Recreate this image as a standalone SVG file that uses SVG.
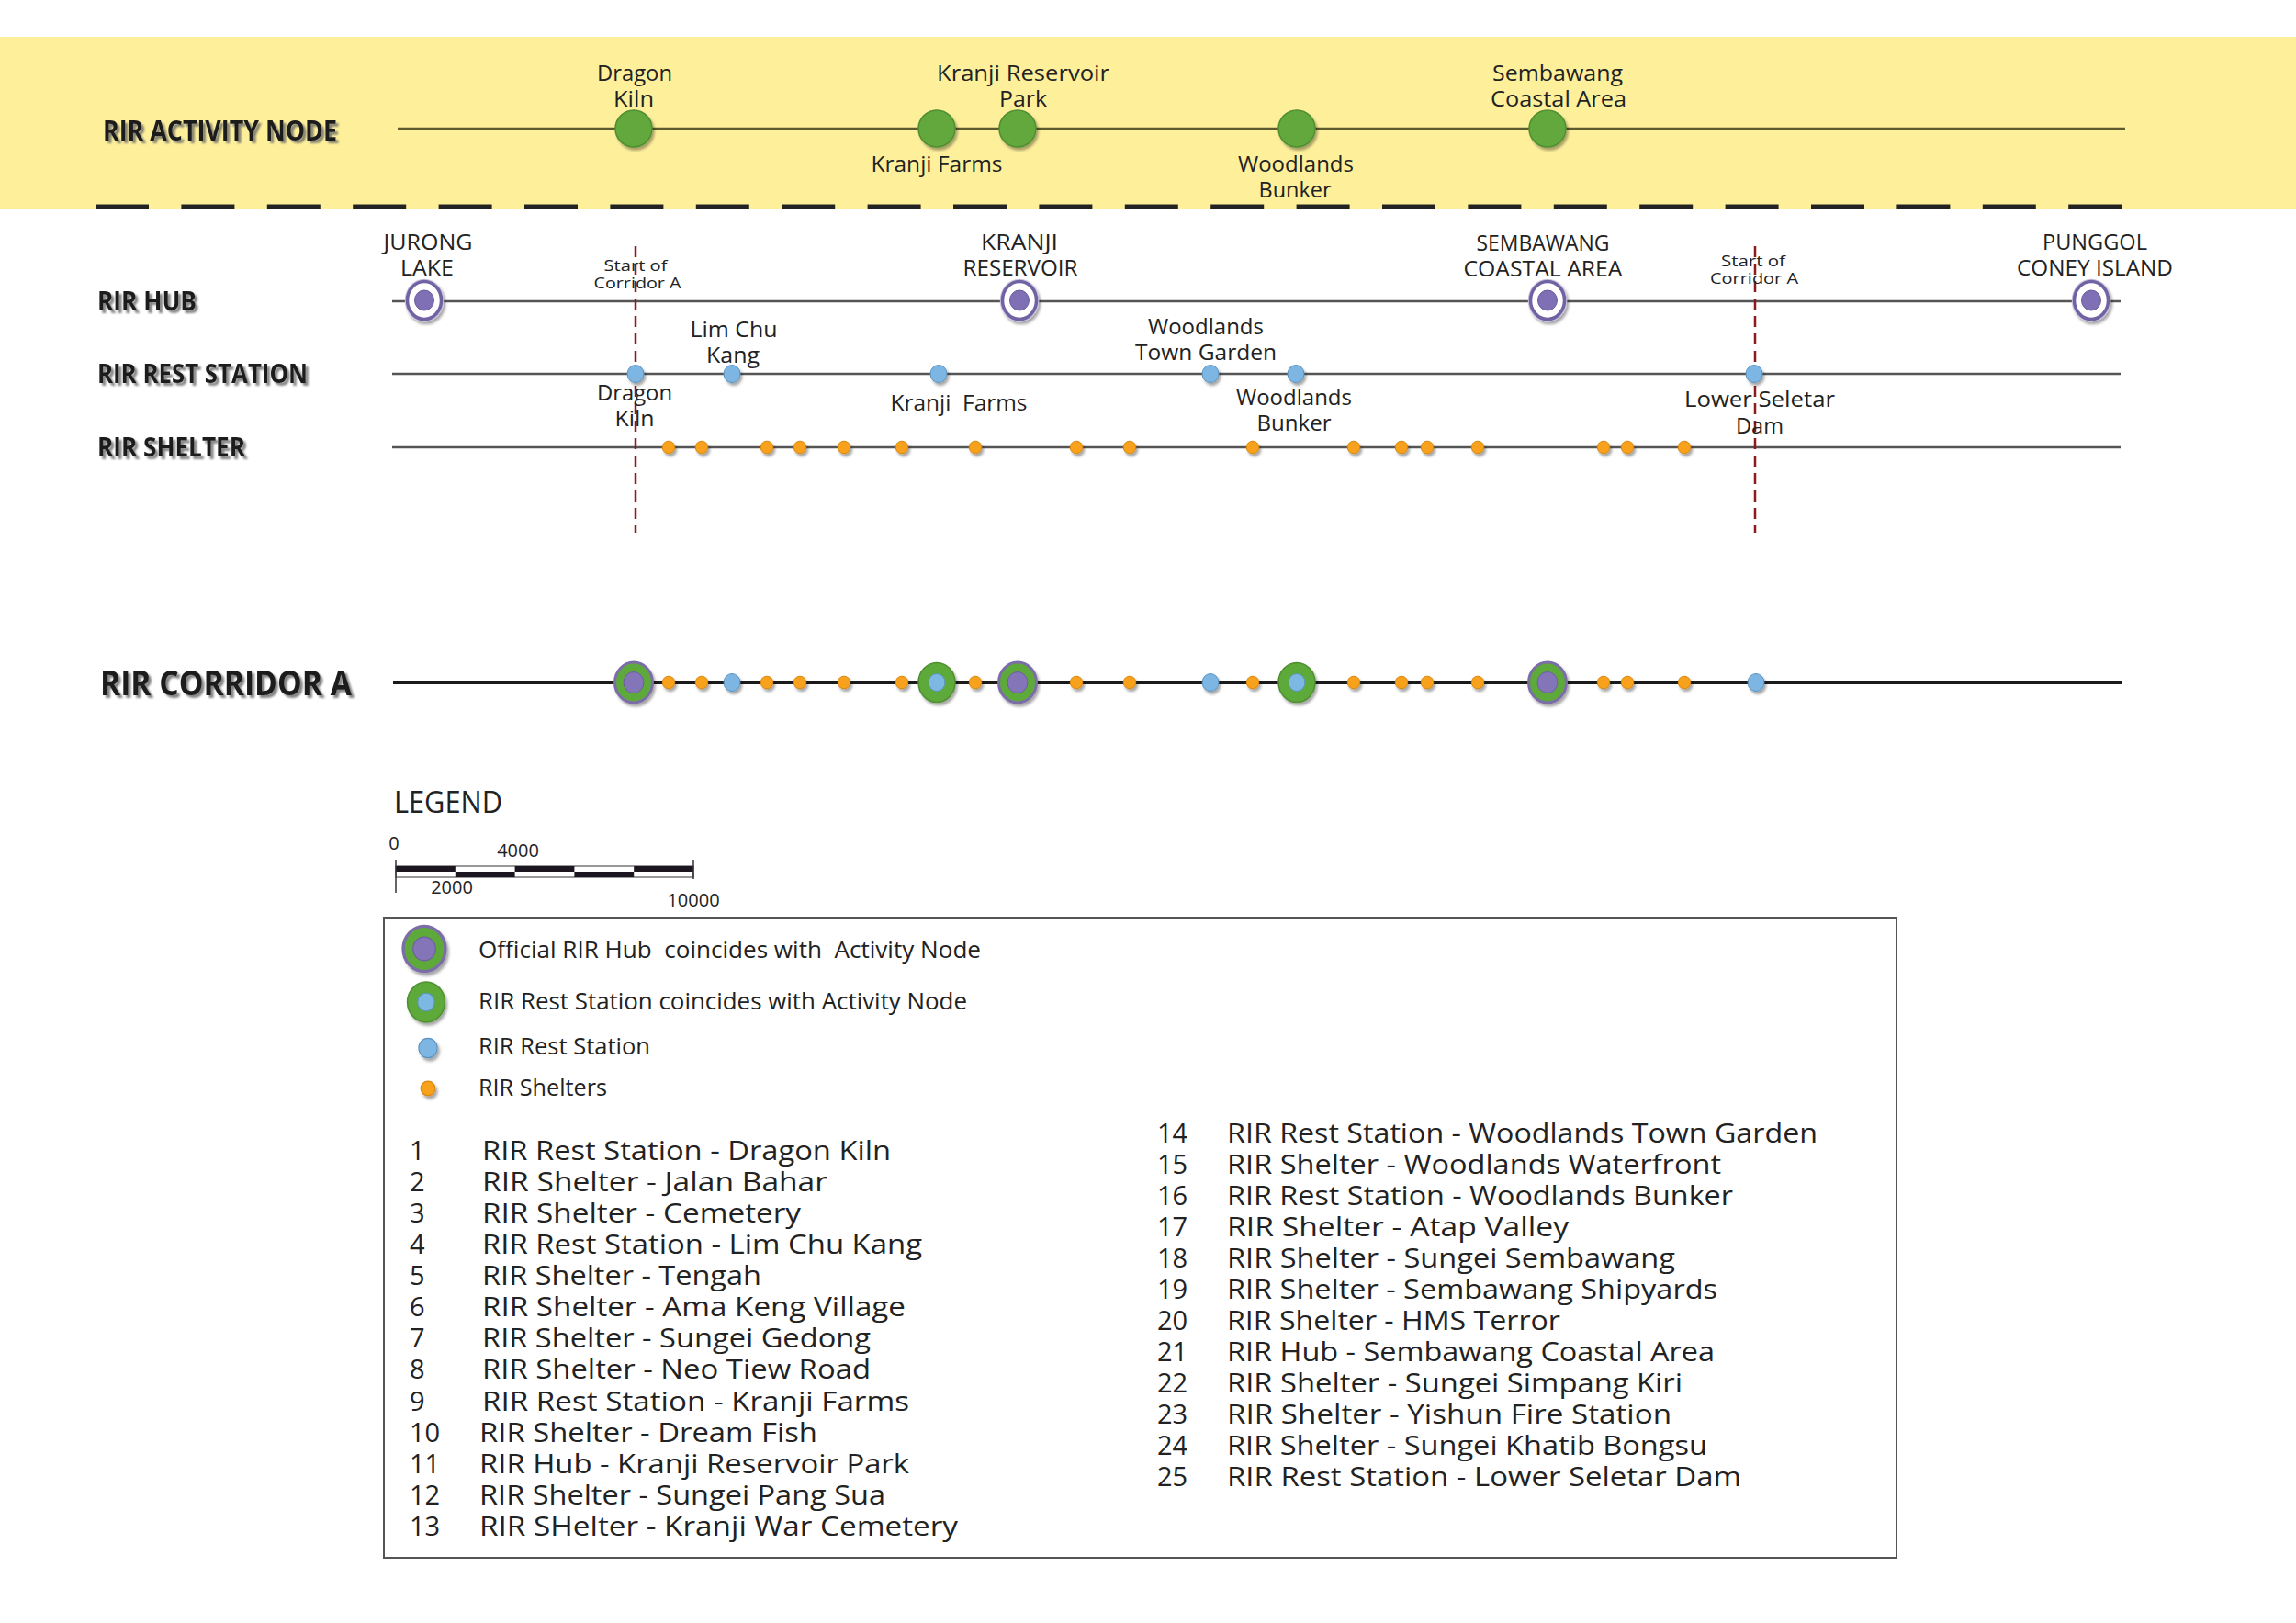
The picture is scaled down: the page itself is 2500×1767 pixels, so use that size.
<svg xmlns="http://www.w3.org/2000/svg" width="2500" height="1767" viewBox="0 0 2500 1767">
<style>
text { font-family: "Open Sans", "DejaVu Sans", sans-serif; fill: #222; }
.c { text-anchor: middle; }
.t24 { font-size: 23px; }
.t25 { font-size: 24px; }
.t18 { font-size: 16px; }
.hdr { font-weight: bold; font-size: 28px; fill: #1e1e1e; }
.leg { font-size: 26px; }
.lst { font-size: 29px; white-space: pre; }
.sc { font-size: 20px; }
.line2 { stroke: #555; stroke-width: 2.5; fill: none; }
.redd { stroke: #8E1B1B; stroke-width: 2.5; stroke-dasharray: 12 7; fill: none; }
</style>
<defs>
<filter id="sh" x="-60%" y="-60%" width="220%" height="220%">
<feDropShadow dx="2" dy="3" stdDeviation="1.5" flood-color="#000" flood-opacity="0.35"/>
</filter>
<filter id="tsh" x="-10%" y="-30%" width="120%" height="160%">
<feDropShadow dx="3" dy="3" stdDeviation="1.2" flood-color="#666" flood-opacity="0.8"/>
</filter>
<g id="sym-hub">
<ellipse rx="20.5" ry="22.5" fill="none" stroke="#C9C4DC" stroke-width="1.5"/>
<ellipse rx="18.5" ry="20.5" fill="#fff" stroke="#6F62A3" stroke-width="3.5"/>
<ellipse rx="10.5" ry="11" fill="#7F70B5" stroke="#6A5C9E" stroke-width="1"/>
</g>
<g id="sym-act">
<circle r="20" fill="#62A83C" stroke="#4F8E30" stroke-width="1.5"/>
</g>
<g id="sym-rest">
<ellipse rx="9" ry="9.5" fill="#7DB6E2" stroke="#5B93C0" stroke-width="1"/>
</g>
<g id="sym-shelter">
<circle r="6.8" fill="#F7A11E" stroke="#D9860F" stroke-width="1"/>
</g>
<g id="sym-hubact">
<ellipse rx="20.5" ry="22" fill="#5DAA3A" stroke="#7B6DA8" stroke-width="3"/>
<ellipse rx="11" ry="11.5" fill="#8475B8" stroke="#6D5FA0" stroke-width="1"/>
</g>
<g id="sym-restact">
<ellipse rx="20" ry="21.5" fill="#5DAA3A" stroke="#4F8E30" stroke-width="1.5"/>
<ellipse rx="9" ry="9.5" fill="#7DB8E2" stroke="#5B93C0" stroke-width="1"/>
</g>
</defs>

<rect x="0" y="0" width="2500" height="1767" fill="#fff"/>
<!-- activity band -->
<rect x="0" y="40" width="2500" height="187" fill="#FEF09B"/>

<g id="connectors">
<line x1="104" y1="225" x2="2310" y2="225" stroke="#222" stroke-width="5" stroke-dasharray="58 35.4"/>
<line x1="433" y1="140" x2="2314" y2="140" stroke="#5C5A2E" stroke-width="2.5"/>
<line class="line2" x1="427" y1="328" x2="2309" y2="328"/>
<line class="line2" x1="427" y1="407" x2="2309" y2="407"/>
<line class="line2" x1="427" y1="487" x2="2309" y2="487"/>
<line class="redd" x1="692" y1="268" x2="692" y2="580"/>
<line class="redd" x1="1911" y1="268" x2="1911" y2="580"/>
<line x1="428" y1="743" x2="2310" y2="743" stroke="#1a1a1a" stroke-width="4"/>
</g>

<!-- headers -->
<g id="headers" filter="url(#tsh)">
<text class="hdr" x="112" y="153" style="font-size:31px" textLength="255" lengthAdjust="spacingAndGlyphs">RIR ACTIVITY NODE</text>
<text class="hdr" x="106" y="338" textLength="108" lengthAdjust="spacingAndGlyphs">RIR HUB</text>
<text class="hdr" x="106" y="417" textLength="229" lengthAdjust="spacingAndGlyphs">RIR REST STATION</text>
<text class="hdr" x="106" y="497" textLength="161" lengthAdjust="spacingAndGlyphs">RIR SHELTER</text>
<text class="hdr" x="109" y="757" style="font-size:38px" textLength="274" lengthAdjust="spacingAndGlyphs">RIR CORRIDOR A</text>
</g>

<!-- activity nodes -->
<g id="act-dragon-kiln">
<use href="#sym-act" x="690" y="140" filter="url(#sh)"/>
<text class="c t24" x="691" y="88" textLength="82" lengthAdjust="spacingAndGlyphs">Dragon</text>
<text class="c t24" x="690" y="116" textLength="44" lengthAdjust="spacingAndGlyphs">Kiln</text>
</g>
<g id="act-kranji-farms">
<use href="#sym-act" x="1020" y="140" filter="url(#sh)"/>
<text class="c t24" x="1020" y="187" textLength="143" lengthAdjust="spacingAndGlyphs">Kranji Farms</text>
</g>
<g id="act-kranji-reservoir-park">
<use href="#sym-act" x="1108" y="140" filter="url(#sh)"/>
<text class="c t24" x="1114" y="88" textLength="188" lengthAdjust="spacingAndGlyphs">Kranji Reservoir</text>
<text class="c t24" x="1114" y="116" textLength="52" lengthAdjust="spacingAndGlyphs">Park</text>
</g>
<g id="act-woodlands-bunker">
<use href="#sym-act" x="1412" y="140" filter="url(#sh)"/>
<text class="c t24" x="1411" y="187" textLength="126" lengthAdjust="spacingAndGlyphs">Woodlands</text>
<text class="c t24" x="1410" y="215" textLength="79" lengthAdjust="spacingAndGlyphs">Bunker</text>
</g>
<g id="act-sembawang">
<use href="#sym-act" x="1685" y="140" filter="url(#sh)"/>
<text class="c t24" x="1696" y="88" textLength="142" lengthAdjust="spacingAndGlyphs">Sembawang</text>
<text class="c t24" x="1697" y="116" textLength="148" lengthAdjust="spacingAndGlyphs">Coastal Area</text>
</g>

<!-- corridor start labels -->
<g id="start-left">
<text class="c t18" x="692" y="295" textLength="69" lengthAdjust="spacingAndGlyphs">Start of</text>
<text class="c t18" x="694" y="314" textLength="95" lengthAdjust="spacingAndGlyphs">Corridor A</text>
</g>
<g id="start-right">
<text class="c t18" x="1909" y="290" textLength="70" lengthAdjust="spacingAndGlyphs">Start of</text>
<text class="c t18" x="1910" y="309" textLength="96" lengthAdjust="spacingAndGlyphs">Corridor A</text>
</g>

<!-- hubs -->
<g id="hub-jurong">
<use href="#sym-hub" x="462" y="327" filter="url(#sh)"/>
<text class="c t25" x="466" y="272" textLength="97" lengthAdjust="spacingAndGlyphs">JURONG</text>
<text class="c t25" x="465" y="300" textLength="58" lengthAdjust="spacingAndGlyphs">LAKE</text>
</g>
<g id="hub-kranji">
<use href="#sym-hub" x="1110" y="327" filter="url(#sh)"/>
<text class="c t25" x="1110" y="272" textLength="84" lengthAdjust="spacingAndGlyphs">KRANJI</text>
<text class="c t25" x="1111" y="300" textLength="125" lengthAdjust="spacingAndGlyphs">RESERVOIR</text>
</g>
<g id="hub-sembawang">
<use href="#sym-hub" x="1685" y="327" filter="url(#sh)"/>
<text class="c t25" x="1680" y="273" textLength="145" lengthAdjust="spacingAndGlyphs">SEMBAWANG</text>
<text class="c t25" x="1680" y="301" textLength="173" lengthAdjust="spacingAndGlyphs">COASTAL AREA</text>
</g>
<g id="hub-punggol">
<use href="#sym-hub" x="2277" y="327" filter="url(#sh)"/>
<text class="c t25" x="2281" y="272" textLength="114" lengthAdjust="spacingAndGlyphs">PUNGGOL</text>
<text class="c t25" x="2281" y="300" textLength="170" lengthAdjust="spacingAndGlyphs">CONEY ISLAND</text>
</g>

<!-- rest stations -->
<g id="rest-dragon-kiln">
<use href="#sym-rest" x="692" y="407" filter="url(#sh)"/>
<text class="c t24" x="691" y="436" textLength="82" lengthAdjust="spacingAndGlyphs">Dragon</text>
<text class="c t24" x="691" y="464" textLength="43" lengthAdjust="spacingAndGlyphs">Kiln</text>
</g>
<g id="rest-lim-chu-kang">
<use href="#sym-rest" x="797" y="407" filter="url(#sh)"/>
<text class="c t24" x="799" y="367" textLength="95" lengthAdjust="spacingAndGlyphs">Lim Chu</text>
<text class="c t24" x="798" y="395" textLength="58" lengthAdjust="spacingAndGlyphs">Kang</text>
</g>
<g id="rest-kranji-farms">
<use href="#sym-rest" x="1022" y="407" filter="url(#sh)"/>
<text class="c t24" x="1044" y="447" textLength="149" lengthAdjust="spacingAndGlyphs" xml:space="preserve">Kranji  Farms</text>
</g>
<g id="rest-woodlands-town-garden">
<use href="#sym-rest" x="1318" y="407" filter="url(#sh)"/>
<text class="c t24" x="1313" y="364" textLength="126" lengthAdjust="spacingAndGlyphs">Woodlands</text>
<text class="c t24" x="1313" y="392" textLength="154" lengthAdjust="spacingAndGlyphs">Town Garden</text>
</g>
<g id="rest-woodlands-bunker">
<use href="#sym-rest" x="1411" y="407" filter="url(#sh)"/>
<text class="c t24" x="1409" y="441" textLength="126" lengthAdjust="spacingAndGlyphs">Woodlands</text>
<text class="c t24" x="1409" y="469" textLength="81" lengthAdjust="spacingAndGlyphs">Bunker</text>
</g>
<g id="rest-lower-seletar">
<use href="#sym-rest" x="1910" y="407" filter="url(#sh)"/>
<text class="c t24" x="1916" y="443" textLength="164" lengthAdjust="spacingAndGlyphs">Lower Seletar</text>
<text class="c t24" x="1916" y="472" textLength="52" lengthAdjust="spacingAndGlyphs">Dam</text>
</g>

<!-- shelters -->
<g id="shelters" filter="url(#sh)">
<use href="#sym-shelter" x="728" y="487"/>
<use href="#sym-shelter" x="764" y="487"/>
<use href="#sym-shelter" x="835" y="487"/>
<use href="#sym-shelter" x="871" y="487"/>
<use href="#sym-shelter" x="919" y="487"/>
<use href="#sym-shelter" x="982" y="487"/>
<use href="#sym-shelter" x="1062" y="487"/>
<use href="#sym-shelter" x="1172" y="487"/>
<use href="#sym-shelter" x="1230" y="487"/>
<use href="#sym-shelter" x="1364" y="487"/>
<use href="#sym-shelter" x="1474" y="487"/>
<use href="#sym-shelter" x="1526" y="487"/>
<use href="#sym-shelter" x="1554" y="487"/>
<use href="#sym-shelter" x="1609" y="487"/>
<use href="#sym-shelter" x="1746" y="487"/>
<use href="#sym-shelter" x="1772" y="487"/>
<use href="#sym-shelter" x="1834" y="487"/>
</g>

<!-- corridor A nodes -->
<g id="corridor-a" filter="url(#sh)">
<use href="#sym-hubact" x="690" y="743"/>
<use href="#sym-shelter" x="728" y="743"/>
<use href="#sym-shelter" x="764" y="743"/>
<use href="#sym-rest" x="797" y="743"/>
<use href="#sym-shelter" x="835" y="743"/>
<use href="#sym-shelter" x="871" y="743"/>
<use href="#sym-shelter" x="919" y="743"/>
<use href="#sym-shelter" x="982" y="743"/>
<use href="#sym-restact" x="1020" y="743"/>
<use href="#sym-shelter" x="1062" y="743"/>
<use href="#sym-hubact" x="1108" y="743"/>
<use href="#sym-shelter" x="1172" y="743"/>
<use href="#sym-shelter" x="1230" y="743"/>
<use href="#sym-rest" x="1318" y="743"/>
<use href="#sym-shelter" x="1364" y="743"/>
<use href="#sym-restact" x="1412" y="743"/>
<use href="#sym-shelter" x="1474" y="743"/>
<use href="#sym-shelter" x="1526" y="743"/>
<use href="#sym-shelter" x="1554" y="743"/>
<use href="#sym-shelter" x="1609" y="743"/>
<use href="#sym-hubact" x="1685" y="743"/>
<use href="#sym-shelter" x="1746" y="743"/>
<use href="#sym-shelter" x="1772" y="743"/>
<use href="#sym-shelter" x="1834" y="743"/>
<use href="#sym-rest" x="1912" y="743"/>
</g>

<!-- legend -->
<g id="legend-title">
<text x="429" y="885" style="font-size:32px" textLength="118" lengthAdjust="spacingAndGlyphs">LEGEND</text>
</g>
<g id="scale-bar">
<rect x="431" y="943" width="324" height="12" fill="#fff" stroke="#333" stroke-width="1"/>
<rect x="431" y="943" width="64.8" height="6" fill="#1c1620"/>
<rect x="560.6" y="943" width="64.8" height="6" fill="#1c1620"/>
<rect x="690.2" y="943" width="64.8" height="6" fill="#1c1620"/>
<rect x="495.8" y="949" width="64.8" height="6" fill="#1c1620"/>
<rect x="625.4" y="949" width="64.8" height="6" fill="#1c1620"/>
<line x1="431" y1="936" x2="431" y2="972" stroke="#333" stroke-width="1.5"/>
<line x1="755" y1="936" x2="755" y2="957" stroke="#333" stroke-width="1.5"/>
<text class="c sc" x="429" y="925">0</text>
<text class="c sc" x="564" y="933">4000</text>
<text class="c sc" x="492" y="973">2000</text>
<text class="c sc" x="755" y="987">10000</text>
</g>
<g id="legend-box">
<rect x="418" y="999" width="1647" height="697" fill="none" stroke="#555" stroke-width="2"/>
</g>
<g id="legend-hubact">
<use href="#sym-hubact" transform="translate(462,1033) scale(1.12)" filter="url(#sh)"/>
<text class="leg" x="521" y="1043" xml:space="preserve" textLength="547" lengthAdjust="spacingAndGlyphs">Official RIR Hub  coincides with  Activity Node</text>
</g>
<g id="legend-restact">
<use href="#sym-restact" transform="translate(464,1091) scale(1.02)" filter="url(#sh)"/>
<text class="leg" x="521" y="1099" textLength="532" lengthAdjust="spacingAndGlyphs">RIR Rest Station coincides with Activity Node</text>
</g>
<g id="legend-rest">
<use href="#sym-rest" transform="translate(466,1141) scale(1.12)" filter="url(#sh)"/>
<text class="leg" x="521" y="1148" textLength="187" lengthAdjust="spacingAndGlyphs">RIR Rest Station</text>
</g>
<g id="legend-shelter">
<use href="#sym-shelter" transform="translate(466,1185) scale(1.15)" filter="url(#sh)"/>
<text class="leg" x="521" y="1193" textLength="140" lengthAdjust="spacingAndGlyphs">RIR Shelters</text>
</g>

<g id="legend-list-left">
<text class="lst" x="446" y="1263">1</text><text class="lst" x="525" y="1263" textLength="445" lengthAdjust="spacingAndGlyphs">RIR Rest Station - Dragon Kiln</text>
<text class="lst" x="446" y="1297">2</text><text class="lst" x="525" y="1297" textLength="376" lengthAdjust="spacingAndGlyphs">RIR Shelter - Jalan Bahar</text>
<text class="lst" x="446" y="1331">3</text><text class="lst" x="525" y="1331" textLength="347" lengthAdjust="spacingAndGlyphs">RIR Shelter - Cemetery</text>
<text class="lst" x="446" y="1365">4</text><text class="lst" x="525" y="1365" textLength="479" lengthAdjust="spacingAndGlyphs">RIR Rest Station - Lim Chu Kang</text>
<text class="lst" x="446" y="1399">5</text><text class="lst" x="525" y="1399" textLength="304" lengthAdjust="spacingAndGlyphs">RIR Shelter - Tengah</text>
<text class="lst" x="446" y="1433">6</text><text class="lst" x="525" y="1433" textLength="461" lengthAdjust="spacingAndGlyphs">RIR Shelter - Ama Keng Village</text>
<text class="lst" x="446" y="1467">7</text><text class="lst" x="525" y="1467" textLength="423" lengthAdjust="spacingAndGlyphs">RIR Shelter - Sungei Gedong</text>
<text class="lst" x="446" y="1501">8</text><text class="lst" x="525" y="1501" textLength="423" lengthAdjust="spacingAndGlyphs">RIR Shelter - Neo Tiew Road</text>
<text class="lst" x="446" y="1536">9</text><text class="lst" x="525" y="1536" textLength="465" lengthAdjust="spacingAndGlyphs">RIR Rest Station - Kranji Farms</text>
<text class="lst" x="446" y="1570">10</text><text class="lst" x="522" y="1570" textLength="368" lengthAdjust="spacingAndGlyphs">RIR Shelter - Dream Fish</text>
<text class="lst" x="446" y="1604">11</text><text class="lst" x="522" y="1604" textLength="468" lengthAdjust="spacingAndGlyphs">RIR Hub - Kranji Reservoir Park</text>
<text class="lst" x="446" y="1638">12</text><text class="lst" x="522" y="1638" textLength="442" lengthAdjust="spacingAndGlyphs">RIR Shelter - Sungei Pang Sua</text>
<text class="lst" x="446" y="1672">13</text><text class="lst" x="522" y="1672" textLength="521" lengthAdjust="spacingAndGlyphs">RIR SHelter - Kranji War Cemetery</text>
</g>
<g id="legend-list-right">
<text class="lst" x="1260" y="1244">14</text><text class="lst" x="1336" y="1244" textLength="643" lengthAdjust="spacingAndGlyphs">RIR Rest Station - Woodlands Town Garden</text>
<text class="lst" x="1260" y="1278">15</text><text class="lst" x="1336" y="1278" textLength="538" lengthAdjust="spacingAndGlyphs">RIR Shelter - Woodlands Waterfront</text>
<text class="lst" x="1260" y="1312">16</text><text class="lst" x="1336" y="1312" textLength="551" lengthAdjust="spacingAndGlyphs">RIR Rest Station - Woodlands Bunker</text>
<text class="lst" x="1260" y="1346">17</text><text class="lst" x="1336" y="1346" textLength="372" lengthAdjust="spacingAndGlyphs">RIR Shelter - Atap Valley</text>
<text class="lst" x="1260" y="1380">18</text><text class="lst" x="1336" y="1380" textLength="488" lengthAdjust="spacingAndGlyphs">RIR Shelter - Sungei Sembawang</text>
<text class="lst" x="1260" y="1414">19</text><text class="lst" x="1336" y="1414" textLength="534" lengthAdjust="spacingAndGlyphs">RIR Shelter - Sembawang Shipyards</text>
<text class="lst" x="1260" y="1448">20</text><text class="lst" x="1336" y="1448" textLength="363" lengthAdjust="spacingAndGlyphs">RIR Shelter - HMS Terror</text>
<text class="lst" x="1260" y="1482">21</text><text class="lst" x="1336" y="1482" textLength="531" lengthAdjust="spacingAndGlyphs">RIR Hub - Sembawang Coastal Area</text>
<text class="lst" x="1260" y="1516">22</text><text class="lst" x="1336" y="1516" textLength="496" lengthAdjust="spacingAndGlyphs">RIR Shelter - Sungei Simpang Kiri</text>
<text class="lst" x="1260" y="1550">23</text><text class="lst" x="1336" y="1550" textLength="484" lengthAdjust="spacingAndGlyphs">RIR Shelter - Yishun Fire Station</text>
<text class="lst" x="1260" y="1584">24</text><text class="lst" x="1336" y="1584" textLength="523" lengthAdjust="spacingAndGlyphs">RIR Shelter - Sungei Khatib Bongsu</text>
<text class="lst" x="1260" y="1618">25</text><text class="lst" x="1336" y="1618" textLength="560" lengthAdjust="spacingAndGlyphs">RIR Rest Station - Lower Seletar Dam</text>
</g>
</svg>
